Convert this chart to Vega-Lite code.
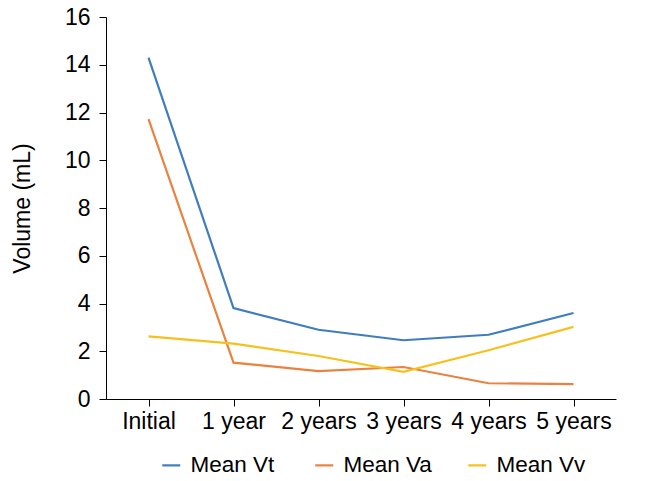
{
  "$schema": "https://vega.github.io/schema/vega-lite/v6.json",
  "width": 510,
  "height": 382,
  "autosize": {"type": "none"},
  "padding": {"left": 106, "top": 17, "right": 32, "bottom": 82},
  "background": "white",
  "config": {
    "view": {"stroke": null},
    "font": "Liberation Sans"
  },
  "data": {
    "values": [
      {"time": "Initial", "series": "Mean Vt", "volume": 14.3},
      {"time": "1 year", "series": "Mean Vt", "volume": 3.81},
      {"time": "2 years", "series": "Mean Vt", "volume": 2.9},
      {"time": "3 years", "series": "Mean Vt", "volume": 2.46},
      {"time": "4 years", "series": "Mean Vt", "volume": 2.69},
      {"time": "5 years", "series": "Mean Vt", "volume": 3.6},
      {"time": "Initial", "series": "Mean Va", "volume": 11.72},
      {"time": "1 year", "series": "Mean Va", "volume": 1.52},
      {"time": "2 years", "series": "Mean Va", "volume": 1.17},
      {"time": "3 years", "series": "Mean Va", "volume": 1.34},
      {"time": "4 years", "series": "Mean Va", "volume": 0.66},
      {"time": "5 years", "series": "Mean Va", "volume": 0.62},
      {"time": "Initial", "series": "Mean Vv", "volume": 2.62},
      {"time": "1 year", "series": "Mean Vv", "volume": 2.32},
      {"time": "2 years", "series": "Mean Vv", "volume": 1.8},
      {"time": "3 years", "series": "Mean Vv", "volume": 1.14},
      {"time": "4 years", "series": "Mean Vv", "volume": 2.04},
      {"time": "5 years", "series": "Mean Vv", "volume": 3.02}
    ]
  },
  "mark": {"type": "line", "strokeWidth": 2.2},
  "encoding": {
    "x": {
      "field": "time",
      "type": "ordinal",
      "sort": ["Initial", "1 year", "2 years", "3 years", "4 years", "5 years"],
      "scale": {"type": "point", "padding": 0.5},
      "axis": {
        "title": null,
        "labelAngle": 0,
        "labelFontSize": 23,
        "labelColor": "#000",
        "labelPadding": 4,
        "tickSize": 7,
        "tickColor": "#000",
        "domainColor": "#000",
        "grid": false
      }
    },
    "y": {
      "field": "volume",
      "type": "quantitative",
      "scale": {"domain": [0, 16], "nice": false},
      "axis": {
        "title": "Volume (mL)",
        "titleFontSize": 23,
        "titleFontWeight": "normal",
        "titleColor": "#000",
        "titlePadding": 30,
        "values": [0, 2, 4, 6, 8, 10, 12, 14, 16],
        "labelFontSize": 23,
        "labelColor": "#000",
        "labelPadding": 9,
        "tickSize": 7,
        "tickColor": "#000",
        "domainColor": "#000",
        "grid": false
      }
    },
    "color": {
      "field": "series",
      "type": "nominal",
      "sort": ["Mean Vt", "Mean Va", "Mean Vv"],
      "scale": {
        "domain": ["Mean Vt", "Mean Va", "Mean Vv"],
        "range": ["#3F7DBF", "#E9823F", "#F5C11C"]
      },
      "legend": {
        "title": null,
        "orient": "none",
        "direction": "horizontal",
        "legendX": 54,
        "legendY": 437,
        "symbolType": "stroke",
        "symbolSize": 324,
        "symbolStrokeWidth": 2.2,
        "labelFontSize": 22.5,
        "labelColor": "#000",
        "labelOffset": 8,
        "columnPadding": 30,
        "gridAlign": "all"
      }
    }
  }
}
